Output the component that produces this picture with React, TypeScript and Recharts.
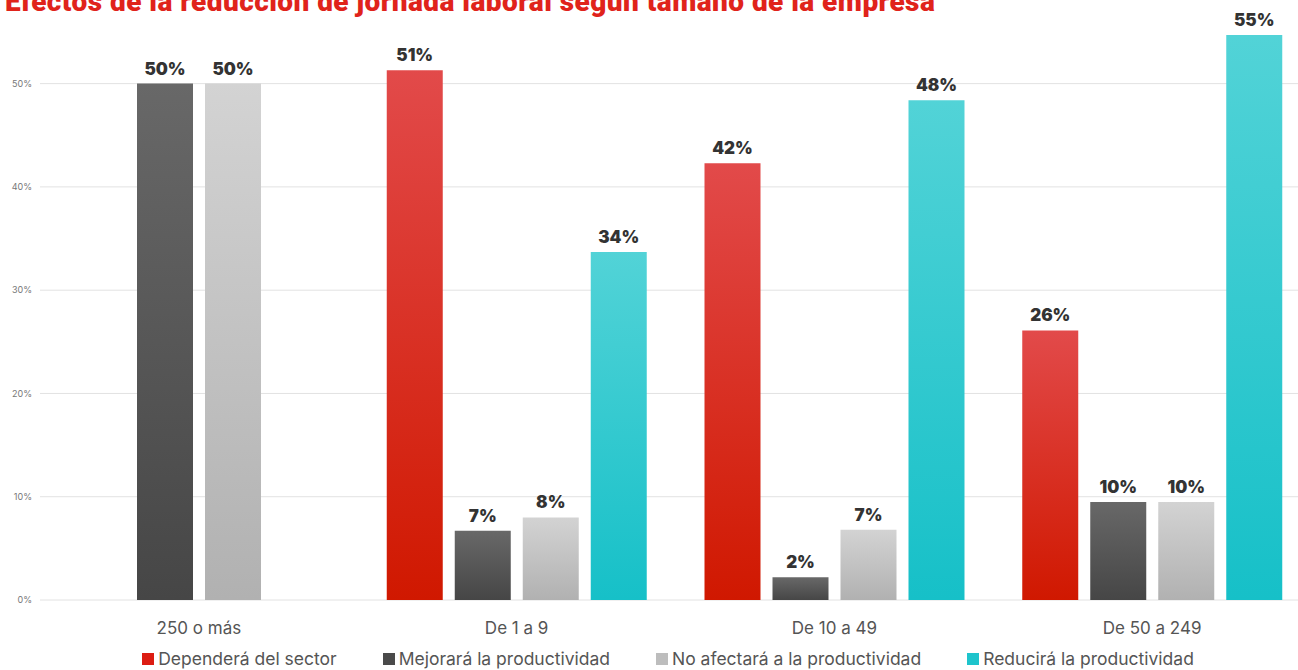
import { BarChart, Bar, XAxis, YAxis, CartesianGrid, Legend, LabelList } from "recharts"

const categories = ["250 o más", "De 1 a 9", "De 10 a 49", "De 50 a 249"]
const dependera = [0, 51.3, 42.3, 26.1]
const mejorara = [50, 6.7, 2.2, 9.5]
const noAfectara = [50, 8.0, 6.8, 9.5]
const reducira = [0, 33.7, 48.4, 54.7]
const yTicks = [0, 10, 20, 30, 40, 50]

const series = [
  { key: "dependera", name: "Dependerá del sector", top: "#e24a4a", bottom: "#d01800", swatch: "#dc1c12" },
  { key: "mejorara", name: "Mejorará la productividad", top: "#686868", bottom: "#464646", swatch: "#4a4a4a" },
  { key: "noAfectara", name: "No afectará a la productividad", top: "#d3d3d3", bottom: "#b1b1b1", swatch: "#bdbdbd" },
  { key: "reducira", name: "Reducirá la productividad", top: "#52d3d7", bottom: "#16c0c8", swatch: "#1ec4cc" },
]

const data = categories.map((c, i) => ({
  name: c,
  dependera: dependera[i],
  mejorara: mejorara[i],
  noAfectara: noAfectara[i],
  reducira: reducira[i],
}))

const font = "Inter, 'Noto Sans', sans-serif"

function ChartLegend() {
  return (
    <div
      style={{
        display: "flex",
        justifyContent: "center",
        gap: 46,
        fontFamily: font,
        fontSize: 17.5,
        lineHeight: "22px",
        color: "#555",
        paddingLeft: 25,
      }}
    >
      {series.map((s) => (
        <div key={s.key} style={{ display: "flex", alignItems: "center" }}>
          <span style={{ display: "inline-block", width: 12, height: 12, background: s.swatch, marginRight: 4 }} />
          {s.name}
        </div>
      ))}
    </div>
  )
}

export default function App() {
  return (
    <div style={{ position: "absolute", left: 0, top: 0, width: 1298, height: 670, overflow: "hidden", background: "#fff" }}>
      <div
        style={{
          position: "absolute",
          left: 5,
          top: -15,
          fontFamily: "Roboto, sans-serif",
          fontWeight: 900,
          fontSize: 28,
          letterSpacing: 0.45,
          color: "#e0231b",
          whiteSpace: "nowrap",
          zIndex: 2,
        }}
      >
        Efectos de la reducción de jornada laboral según tamaño de la empresa
      </div>
      <BarChart
        width={1311}
        height={670}
        data={data}
        margin={{ top: 1, right: 0, bottom: 0, left: 0 }}
        barSize={56}
        barGap={12}
      >
        <defs>
          {series.map((s) => (
            <linearGradient key={s.key} id={`grad-${s.key}`} x1="0" y1="0" x2="0" y2="1">
              <stop offset="0%" stopColor={s.top} />
              <stop offset="100%" stopColor={s.bottom} />
            </linearGradient>
          ))}
        </defs>
        <CartesianGrid vertical={false} stroke="#e2e2e2" horizontalValues={yTicks} />
        <XAxis
          dataKey="name"
          axisLine={false}
          tickLine={false}
          tickSize={0}
          tickMargin={22}
          height={48}
          tick={{ fill: "#555", fontSize: 17, fontFamily: font }}
        />
        <YAxis
          width={40}
          domain={[0, 58]}
          ticks={yTicks}
          axisLine={false}
          tickLine={false}
          tickSize={0}
          tickMargin={8}
          tickFormatter={(v) => `${v}%`}
          tick={{ fill: "#777", fontSize: 9, fontFamily: font }}
        />
        <Legend verticalAlign="bottom" content={<ChartLegend />} wrapperStyle={{ bottom: 0 }} />
        {series.map((s) => (
          <Bar key={s.key} dataKey={s.key} name={s.name} fill={`url(#grad-${s.key})`} isAnimationActive={false}>
            <LabelList
              dataKey={s.key}
              position="top"
              offset={9}
              formatter={(v: any) => (v > 0 ? `${Math.round(v)}%` : "")}
              style={{ fill: "#333", fontSize: 17, fontWeight: 900, fontFamily: font }}
            />
          </Bar>
        ))}
      </BarChart>
    </div>
  )
}
